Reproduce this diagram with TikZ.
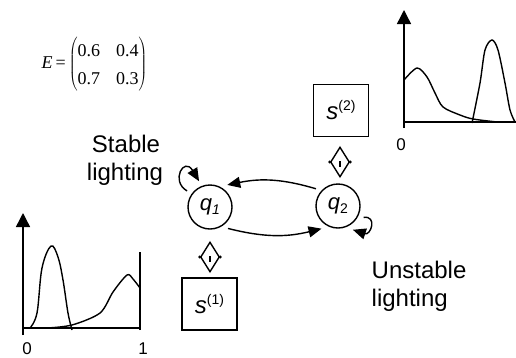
\documentclass[tikz,border=0pt]{standalone}
\usepackage{fontspec}
\setmainfont{Liberation Sans}
\newfontfamily\serif{Liberation Serif}
\usetikzlibrary{arrows.meta,shapes.geometric}
\begin{document}
\begin{tikzpicture}[x=1pt,y=-1pt,line width=1.4pt,
  state/.style={circle,draw,minimum size=44pt,inner sep=0pt,outer sep=6pt,font=\fontsize{22}{22}\selectfont},
  obsbox/.style={draw,minimum width=55pt,minimum height=52pt,inner sep=0pt,font=\fontsize{24}{24}\selectfont},
  link/.style={diamond,draw,minimum width=19pt,minimum height=30pt,inner sep=0pt},
  arr/.style={-{Triangle[length=13pt,width=11pt]}},
  axarr/.style={-{Triangle[length=14pt,width=14pt]}},
  lbl/.style={font=\fontsize{24}{28}\selectfont,inner sep=0pt},
  ticklbl/.style={font=\fontsize{17}{17}\selectfont,inner sep=0pt},
  curve/.style={line width=1.4pt}
]
\useasboundingbox (0,0) rectangle (516,357);

% emission matrix
\node[anchor=west,inner sep=0pt] (E) at (41,64.5) {\serif\fontsize{18}{28}\selectfont\textit{E}\,=\,$\left(\vcenter{\hbox{\begin{tabular}{@{}l@{\hspace{16pt}}l@{}}0.6&0.4\\0.7&0.3\end{tabular}}}\right)$};

% states
\node[state] (q1) at (210,207) {\textit{q}\raisebox{-4pt}{\fontsize{14}{14}\selectfont\textit{1}}};
\node[state] (q2) at (338,206) {\textit{q}\raisebox{-4pt}{\fontsize{14}{14}\selectfont 2}};

% transitions
\draw[arr] (q2.142) to[bend right=14] (q1.52);
\draw[arr] (q1.-50) to[bend right=14] (q2.-126);
\draw[arr] (q1.145) .. controls +(-17,-10) and +(-15,-25) .. (q1.113);
\draw[arr] (q2.-24) .. controls +(14,-2) and +(18,6) .. (q2.-58);

% emission links
\node[link] (d1) at (210,257) {};
\fill (d1.west) circle (1.6pt) (d1.east) circle (1.6pt);
\draw ([yshift=1pt]d1.center) -- ([yshift=-5pt]d1.center);
\node[link] (d2) at (340,162) {};
\fill (d2.west) circle (1.6pt) (d2.east) circle (1.6pt);
\draw ([yshift=1pt]d2.center) -- ([yshift=-5pt]d2.center);

% observation boxes
\node[obsbox] (s1) at (209.5,304) {\textit{s}\raisebox{9pt}{\fontsize{14}{14}\selectfont(1)}};
\node[obsbox] (s2) at (341,110.5) {\textit{s}\raisebox{9pt}{\fontsize{14}{14}\selectfont(2)}};

% labels
\node[lbl,anchor=base] (st1) at (126,152) {Stable};
\node[lbl,anchor=base] (st2) at (125,180) {lighting};
\node[lbl,anchor=base west] (un1) at (371,278) {Unstable};
\node[lbl,anchor=base west] (un2) at (371,306) {lighting};

% lower-left plot
\draw[axarr] (23,335) -- (23,213);
\draw (23,328) -- (140,328);
\draw (140,330) -- (140,252);
\draw[curve] plot[smooth,tension=0.6] coordinates {(30,328) (37,313) (42,268) (51,246) (58,257) (63,280) (68,313) (72,330)};
\draw[curve] plot[smooth] coordinates {(47,328) (72,325) (100,313) (113,292) (127,275) (133,279) (140,288)};
\node[ticklbl] (x0a) at (27,349) {0};
\node[ticklbl] (x1a) at (143,349) {1};

% upper-right plot
\draw[axarr] (404,128) -- (404,10);
\draw (404,122) -- (516,122);
\draw[curve] plot[smooth] coordinates {(404,80) (417,68) (427,77) (435,93) (443,107) (460,115) (473,119) (497,122)};
\draw[curve] plot[smooth] coordinates {(472,123) (480,83) (485,50) (492,40) (498,50) (505,83) (510,110) (515,122)};
\node[ticklbl] (x0b) at (401,145) {0};
\end{tikzpicture}
\end{document}
